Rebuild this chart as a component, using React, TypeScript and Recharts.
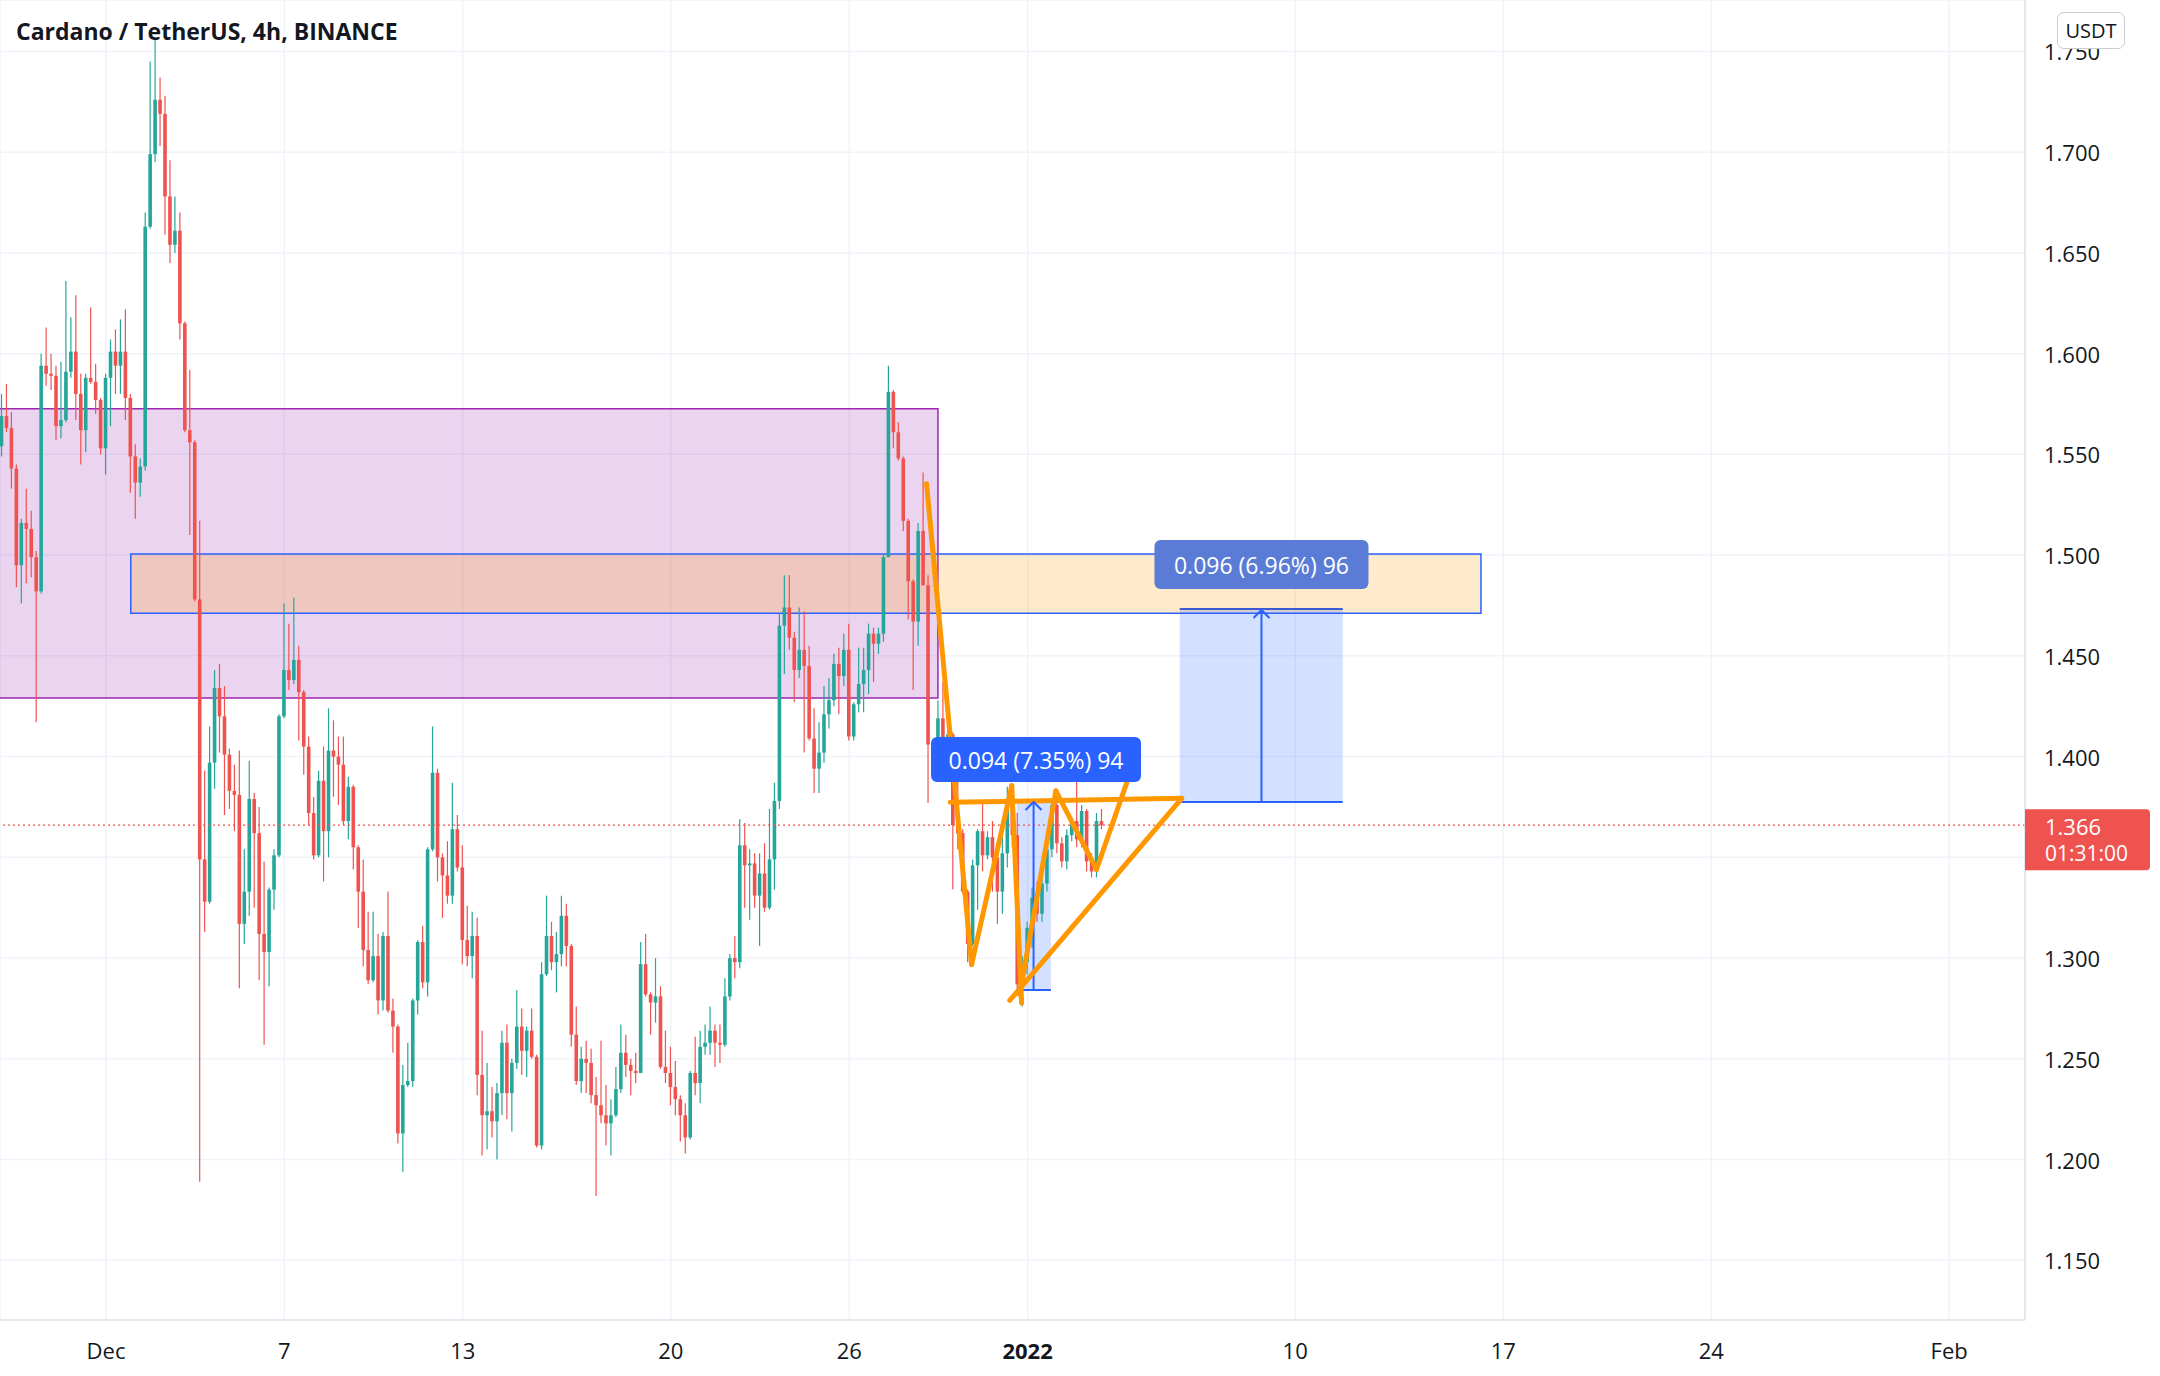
import {
  ComposedChart,
  Bar,
  XAxis,
  YAxis,
  CartesianGrid,
  ReferenceArea,
  ReferenceLine,
  ReferenceDot,
} from "recharts";

// ADA/USDT 4h candles, Nov 27 12:00 -> Jan 3
const opens = [
  1.554, 1.569, 1.563, 1.543, 1.495, 1.516, 1.513, 1.499, 1.482, 1.594,
  1.590, 1.589, 1.564, 1.567, 1.591, 1.601, 1.580, 1.562, 1.588, 1.586,
  1.577, 1.553, 1.588, 1.601, 1.594, 1.601, 1.578, 1.549, 1.536, 1.544,
  1.663, 1.699, 1.726, 1.719, 1.678, 1.654, 1.661, 1.615, 1.562, 1.556,
  1.478, 1.349, 1.328, 1.397, 1.434, 1.420, 1.401, 1.383, 1.381, 1.317,
  1.333, 1.379, 1.362, 1.312, 1.303, 1.334, 1.351, 1.420, 1.443, 1.438,
  1.448, 1.432, 1.405, 1.372, 1.351, 1.388, 1.363, 1.403, 1.400, 1.396,
  1.368, 1.385, 1.355, 1.333, 1.304, 1.289, 1.301, 1.279, 1.311, 1.274,
  1.266, 1.213, 1.237, 1.239, 1.279, 1.308, 1.288, 1.354, 1.392, 1.350,
  1.341, 1.331, 1.364, 1.345, 1.309, 1.301, 1.311, 1.242, 1.222, 1.224,
  1.219, 1.233, 1.258, 1.233, 1.248, 1.266, 1.254, 1.264, 1.251, 1.207,
  1.292, 1.311, 1.298, 1.302, 1.321, 1.306, 1.262, 1.239, 1.250, 1.248,
  1.232, 1.227, 1.222, 1.218, 1.222, 1.235, 1.253, 1.247, 1.244, 1.243,
  1.297, 1.282, 1.278, 1.281, 1.246, 1.243, 1.236, 1.230, 1.222, 1.211,
  1.243, 1.238, 1.256, 1.258, 1.264, 1.258, 1.257, 1.281, 1.300, 1.298,
  1.356, 1.346, 1.347, 1.331, 1.342, 1.325, 1.349, 1.378, 1.465, 1.474,
  1.459, 1.443, 1.453, 1.445, 1.409, 1.394, 1.402, 1.421, 1.428, 1.446,
  1.440, 1.453, 1.410, 1.426, 1.436, 1.443, 1.461, 1.456, 1.461, 1.499,
  1.581, 1.561, 1.548, 1.517, 1.487, 1.467, 1.512, 1.485, 1.406, 1.398,
  1.419, 1.406, 1.411, 1.366, 1.362, 1.333, 1.307, 1.346, 1.363, 1.351,
  1.360, 1.350, 1.333, 1.352, 1.378, 1.361, 1.287, 1.298, 1.315, 1.330,
  1.322, 1.337, 1.354, 1.376, 1.357, 1.348, 1.361, 1.368, 1.359, 1.373,
  1.348, 1.343, 1.368,
];

const highs = [
  1.580, 1.585, 1.571, 1.545, 1.518, 1.533, 1.522, 1.502, 1.600, 1.613,
  1.600, 1.594, 1.596, 1.636, 1.618, 1.629, 1.590, 1.590, 1.623, 1.595,
  1.578, 1.590, 1.607, 1.612, 1.617, 1.622, 1.580, 1.555, 1.548, 1.670,
  1.745, 1.757, 1.737, 1.728, 1.696, 1.678, 1.670, 1.616, 1.592, 1.557,
  1.517, 1.393, 1.415, 1.443, 1.446, 1.435, 1.404, 1.396, 1.403, 1.354,
  1.398, 1.382, 1.375, 1.348, 1.335, 1.354, 1.421, 1.476, 1.466, 1.479,
  1.455, 1.433, 1.410, 1.380, 1.393, 1.405, 1.424, 1.418, 1.410, 1.410,
  1.390, 1.386, 1.356, 1.349, 1.323, 1.323, 1.312, 1.313, 1.333, 1.280,
  1.267, 1.247, 1.258, 1.280, 1.309, 1.316, 1.355, 1.415, 1.394, 1.352,
  1.358, 1.387, 1.371, 1.356, 1.326, 1.323, 1.320, 1.264, 1.248, 1.236,
  1.238, 1.264, 1.267, 1.250, 1.284, 1.275, 1.266, 1.275, 1.252, 1.298,
  1.331, 1.318, 1.313, 1.331, 1.327, 1.307, 1.276, 1.256, 1.259, 1.255,
  1.241, 1.259, 1.237, 1.230, 1.246, 1.267, 1.262, 1.250, 1.253, 1.308,
  1.312, 1.283, 1.300, 1.286, 1.264, 1.256, 1.249, 1.232, 1.228, 1.244,
  1.261, 1.264, 1.267, 1.276, 1.267, 1.267, 1.290, 1.302, 1.311, 1.369,
  1.367, 1.354, 1.352, 1.352, 1.357, 1.374, 1.387, 1.471, 1.490, 1.490,
  1.462, 1.474, 1.472, 1.455, 1.424, 1.417, 1.435, 1.439, 1.451, 1.454,
  1.461, 1.466, 1.427, 1.454, 1.454, 1.466, 1.464, 1.464, 1.500, 1.594,
  1.582, 1.566, 1.549, 1.518, 1.488, 1.516, 1.541, 1.490, 1.407, 1.428,
  1.437, 1.415, 1.412, 1.400, 1.364, 1.334, 1.349, 1.364, 1.377, 1.363,
  1.368, 1.356, 1.366, 1.385, 1.386, 1.372, 1.301, 1.318, 1.335, 1.338,
  1.340, 1.358, 1.378, 1.378, 1.360, 1.364, 1.370, 1.390, 1.376, 1.374,
  1.352, 1.372, 1.374,
];

const lows = [
  1.549, 1.561, 1.533, 1.484, 1.476, 1.486, 1.489, 1.417, 1.481, 1.584,
  1.582, 1.557, 1.558, 1.566, 1.588, 1.567, 1.545, 1.551, 1.585, 1.570,
  1.550, 1.540, 1.564, 1.580, 1.580, 1.567, 1.531, 1.518, 1.529, 1.542,
  1.662, 1.695, 1.703, 1.659, 1.645, 1.650, 1.607, 1.561, 1.510, 1.477,
  1.189, 1.313, 1.327, 1.384, 1.402, 1.371, 1.374, 1.363, 1.285, 1.307,
  1.321, 1.325, 1.289, 1.257, 1.286, 1.324, 1.350, 1.419, 1.433, 1.436,
  1.408, 1.391, 1.366, 1.349, 1.350, 1.338, 1.350, 1.380, 1.376, 1.366,
  1.359, 1.344, 1.315, 1.296, 1.287, 1.288, 1.272, 1.274, 1.273, 1.253,
  1.208, 1.194, 1.236, 1.236, 1.272, 1.285, 1.281, 1.353, 1.338, 1.320,
  1.327, 1.327, 1.343, 1.297, 1.296, 1.290, 1.232, 1.202, 1.205, 1.211,
  1.200, 1.222, 1.220, 1.214, 1.245, 1.242, 1.241, 1.250, 1.206, 1.205,
  1.291, 1.294, 1.283, 1.296, 1.296, 1.256, 1.237, 1.233, 1.233, 1.228,
  1.182, 1.218, 1.207, 1.202, 1.221, 1.233, 1.241, 1.232, 1.238, 1.243,
  1.281, 1.262, 1.268, 1.245, 1.238, 1.227, 1.222, 1.209, 1.203, 1.210,
  1.232, 1.228, 1.252, 1.252, 1.246, 1.248, 1.256, 1.279, 1.290, 1.295,
  1.325, 1.319, 1.325, 1.306, 1.323, 1.324, 1.334, 1.374, 1.441, 1.453,
  1.427, 1.439, 1.402, 1.408, 1.382, 1.382, 1.397, 1.414, 1.425, 1.421,
  1.435, 1.408, 1.408, 1.422, 1.422, 1.431, 1.437, 1.451, 1.457, 1.499,
  1.553, 1.547, 1.512, 1.468, 1.433, 1.455, 1.485, 1.377, 1.390, 1.390,
  1.397, 1.398, 1.334, 1.354, 1.332, 1.298, 1.306, 1.324, 1.343, 1.349,
  1.333, 1.317, 1.322, 1.345, 1.355, 1.282, 1.276, 1.292, 1.305, 1.318,
  1.318, 1.333, 1.350, 1.352, 1.345, 1.344, 1.358, 1.355, 1.355, 1.343,
  1.340, 1.340, 1.364,
];

const closes = [
  1.569, 1.563, 1.543, 1.495, 1.516, 1.513, 1.499, 1.482, 1.594, 1.590,
  1.589, 1.564, 1.567, 1.591, 1.601, 1.580, 1.562, 1.588, 1.586, 1.577,
  1.553, 1.588, 1.601, 1.594, 1.601, 1.578, 1.549, 1.536, 1.544, 1.663,
  1.699, 1.726, 1.719, 1.678, 1.654, 1.661, 1.615, 1.562, 1.556, 1.478,
  1.349, 1.328, 1.397, 1.434, 1.420, 1.401, 1.383, 1.381, 1.317, 1.333,
  1.379, 1.362, 1.312, 1.303, 1.334, 1.351, 1.420, 1.443, 1.438, 1.448,
  1.432, 1.405, 1.372, 1.351, 1.388, 1.363, 1.403, 1.400, 1.396, 1.368,
  1.385, 1.355, 1.333, 1.304, 1.289, 1.301, 1.279, 1.311, 1.274, 1.266,
  1.213, 1.237, 1.239, 1.279, 1.308, 1.288, 1.354, 1.392, 1.350, 1.341,
  1.331, 1.364, 1.345, 1.309, 1.301, 1.311, 1.242, 1.222, 1.224, 1.219,
  1.233, 1.258, 1.233, 1.248, 1.266, 1.254, 1.264, 1.251, 1.207, 1.292,
  1.311, 1.298, 1.302, 1.321, 1.306, 1.262, 1.239, 1.250, 1.248, 1.232,
  1.227, 1.222, 1.218, 1.222, 1.235, 1.253, 1.247, 1.244, 1.243, 1.297,
  1.282, 1.278, 1.281, 1.246, 1.243, 1.236, 1.230, 1.222, 1.211, 1.243,
  1.238, 1.256, 1.258, 1.264, 1.258, 1.257, 1.281, 1.300, 1.298, 1.356,
  1.346, 1.347, 1.331, 1.342, 1.325, 1.349, 1.378, 1.465, 1.474, 1.459,
  1.443, 1.453, 1.445, 1.409, 1.394, 1.402, 1.421, 1.428, 1.446, 1.440,
  1.453, 1.410, 1.426, 1.436, 1.443, 1.461, 1.456, 1.461, 1.499, 1.581,
  1.561, 1.548, 1.517, 1.487, 1.467, 1.512, 1.485, 1.406, 1.398, 1.419,
  1.406, 1.411, 1.366, 1.362, 1.333, 1.307, 1.346, 1.363, 1.351, 1.360,
  1.350, 1.333, 1.352, 1.378, 1.361, 1.287, 1.298, 1.315, 1.330, 1.322,
  1.337, 1.354, 1.376, 1.357, 1.348, 1.361, 1.368, 1.359, 1.373, 1.348,
  1.343, 1.368, 1.366,
];

// time axis: one unit = one 4h candle, Dec 1 00:00 = 21
const xTicks = [21, 57, 93, 135, 171, 207, 261, 303, 345, 393];
const xLabels = ["Dec", "7", "13", "20", "26", "2022", "10", "17", "24", "Feb"];
const yTicks = [1.15, 1.2, 1.25, 1.3, 1.35, 1.4, 1.45, 1.5, 1.55, 1.6, 1.65, 1.7, 1.75];

const lastPrice = 1.366;
const countdown = "01:31:00";

// drawings (candle index, price)
const purpleZone = { x1: -5, x2: 188.9, y1: 1.4291, y2: 1.5727 };
const orangeZone = { x1: 26, x2: 298.5, y1: 1.4712, y2: 1.5006 };
const measures = [
  { x1: 204.8, x2: 211.7, from: 1.2842, to: 1.378, ax: 208.2, lx: 208.7, ly: 1.3986, w: 210, h: 45, label: "0.094 (7.35%) 94", color: "#2962ff" },
  { x1: 237.7, x2: 270.6, from: 1.3775, to: 1.4733, ax: 254.2, lx: 254.2, ly: 1.4954, w: 214, h: 49, label: "0.096 (6.96%) 96", color: "#5b7cd6" },
];
const pattern = [
  [186.6, 1.5354, 195.7, 1.2968],
  [195.7, 1.2968, 203.8, 1.3856],
  [203.8, 1.3856, 205.8, 1.2777],
  [205.4, 1.282, 212.7, 1.383],
  [212.7, 1.383, 220.9, 1.344],
  [220.9, 1.344, 227.0, 1.387],
  [191.4, 1.3773, 238.1, 1.3793],
  [203.4, 1.279, 238.1, 1.3793],
];

const candles = opens.map((o, i) => ({
  idx: i,
  open: o,
  high: highs[i],
  low: lows[i],
  close: closes[i],
  range: [lows[i], highs[i]],
}));

const FONT = "'Open Sans', 'Noto Sans', sans-serif";
const UP = "#26a69a";
const DOWN = "#ef5350";

const Candle = (props: any) => {
  const { x, y, width, height, payload } = props;
  const top = Math.min(y, y + height);
  const h = Math.abs(height);
  const k = h / (payload.high - payload.low);
  const cx = x + width / 2;
  const color = payload.close >= payload.open ? UP : DOWN;
  const bTop = top + (payload.high - Math.max(payload.open, payload.close)) * k;
  const bBot = top + (payload.high - Math.min(payload.open, payload.close)) * k;
  return (
    <g>
      <line x1={cx} x2={cx} y1={top} y2={top + h} stroke={color} strokeWidth={1.2} />
      <rect x={cx - 1.8} y={bTop} width={3.6} height={Math.max(1.2, bBot - bTop)} fill={color} />
    </g>
  );
};

const XTick = ({ x, y, payload }: any) => {
  const label = xLabels[xTicks.indexOf(payload.value)];
  return (
    <text x={x} y={y + 30} textAnchor="middle" dominantBaseline="central" fontSize={22}
      fontFamily={FONT} fontWeight={label === "2022" ? 700 : 400} fill="#131722">
      {label}
    </text>
  );
};

// the last-price tag covers the tick beneath it, as on the original
const YTick = ({ x, y, payload }: any) => {
  if (Math.abs(payload.value - 1.35) < 0.001) return <g />;
  return (
    <text x={x} y={y} textAnchor="start" dominantBaseline="central" fontSize={22} fontFamily={FONT} fill="#131722">
      {Number(payload.value).toFixed(3)}
    </text>
  );
};

const labelBox = (m: any) => (p: any) => (
  <g>
    <rect x={p.cx - m.w / 2} y={p.cy - m.h / 2} width={m.w} height={m.h} rx={6} fill={m.color} />
    <text x={p.cx} y={p.cy + 1} textAnchor="middle" dominantBaseline="central" fontSize={23} fontFamily={FONT} fill="#ffffff">
      {m.label}
    </text>
  </g>
);

const chevron = (p: any) => (
  <polyline points={`${p.cx - 8},${p.cy + 9} ${p.cx},${p.cy + 1} ${p.cx + 8},${p.cy + 9}`} fill="none" stroke="#2962ff" strokeWidth={2} />
);

const priceTag = (p: any) => (
  <g>
    <path d={`M${p.cx},${p.cy - 16} h121 a4,4 0 0 1 4,4 v53 a4,4 0 0 1 -4,4 h-121 z`} fill={DOWN} />
    <text x={p.cx + 20} y={p.cy + 1} dominantBaseline="central" fontSize={22} fontFamily={FONT} fill="#fff">
      {lastPrice.toFixed(3)}
    </text>
    <text x={p.cx + 20} y={p.cy + 28} dominantBaseline="central" fontSize={21} fontFamily={FONT} fill="#fff">
      {countdown}
    </text>
  </g>
);

export default function App() {
  return (
    <div style={{ position: "fixed", left: 0, top: 0, width: 2160, height: 1376, background: "#ffffff", fontFamily: FONT }}>
      <ComposedChart width={2160} height={1376} data={candles} margin={{ top: 0, right: 0, bottom: 0, left: 0 }}>
        <CartesianGrid stroke="#f0f3fa" strokeWidth={1.5} />
        <XAxis dataKey="idx" type="number" domain={[-0.4, 408.3]} ticks={xTicks} tick={<XTick />}
          height={56} tickSize={0} tickMargin={0} tickLine={false} axisLine={{ stroke: "#e0e3eb", strokeWidth: 1.5 }} allowDataOverflow />
        <YAxis orientation="right" type="number" domain={[1.1204, 1.7755]} ticks={yTicks} tick={<YTick />}
          width={135} tickSize={0} tickMargin={19} tickLine={false} axisLine={{ stroke: "#e0e3eb", strokeWidth: 1.5 }} allowDataOverflow />

        <ReferenceArea x1={purpleZone.x1} x2={purpleZone.x2} y1={purpleZone.y1} y2={purpleZone.y2}
          fill="rgba(156,39,176,0.2)" fillOpacity={1} stroke="#9c27b0" strokeWidth={1.5} ifOverflow="hidden" />
        <ReferenceArea x1={orangeZone.x1} x2={orangeZone.x2} y1={orangeZone.y1} y2={orangeZone.y2}
          fill="rgba(255,152,0,0.2)" fillOpacity={1} stroke="#2962ff" strokeWidth={1.5} ifOverflow="hidden" />

        {measures.map((m, i) => (
          <ReferenceArea key={`ma${i}`} x1={m.x1} x2={m.x2} y1={m.from} y2={m.to} fill="rgba(41,98,255,0.2)" fillOpacity={1} stroke="none" />
        ))}

        <ReferenceLine y={lastPrice} stroke={DOWN} strokeDasharray="2 3" strokeWidth={1.2} />

        <Bar dataKey="range" shape={Candle} barSize={4} isAnimationActive={false} />

        {measures.map((m, i) => (
          <ReferenceLine key={`mt${i}`} segment={[{ x: m.x1, y: m.to }, { x: m.x2, y: m.to }]} stroke="#3d5bd1" strokeWidth={2} />
        ))}
        {measures.map((m, i) => (
          <ReferenceLine key={`mb${i}`} segment={[{ x: m.x1, y: m.from }, { x: m.x2, y: m.from }]} stroke="#2962ff" strokeWidth={2} />
        ))}
        {measures.map((m, i) => (
          <ReferenceLine key={`mv${i}`} segment={[{ x: m.ax, y: m.from }, { x: m.ax, y: m.to }]} stroke="#2962ff" strokeWidth={2} />
        ))}
        {measures.map((m, i) => (
          <ReferenceDot key={`mc${i}`} x={m.ax} y={m.to} r={1} shape={chevron} />
        ))}

        {pattern.map((s, i) => (
          <ReferenceLine key={`p${i}`} segment={[{ x: s[0], y: s[1] }, { x: s[2], y: s[3] }]}
            stroke="#ff9800" strokeWidth={5} strokeLinecap="round" />
        ))}

        {measures.map((m, i) => (
          <ReferenceDot key={`ml${i}`} x={m.lx} y={m.ly} r={1} shape={labelBox(m)} />
        ))}

        <ReferenceDot x={408.3} y={lastPrice} r={1} shape={priceTag} ifOverflow="visible" />
      </ComposedChart>

      <div style={{ position: "absolute", left: 16, top: 15, fontSize: 23, fontWeight: 700, color: "#131722", lineHeight: "32px", whiteSpace: "nowrap" }}>
        Cardano / TetherUS, 4h, BINANCE
      </div>
      <div style={{ position: "absolute", left: 2057, top: 12, width: 66, height: 35, border: "1.5px solid #c8cbd2", borderRadius: 7,
        background: "#ffffff", fontSize: 20, color: "#131722", display: "flex", alignItems: "center", justifyContent: "center" }}>
        USDT
      </div>
    </div>
  );
}
